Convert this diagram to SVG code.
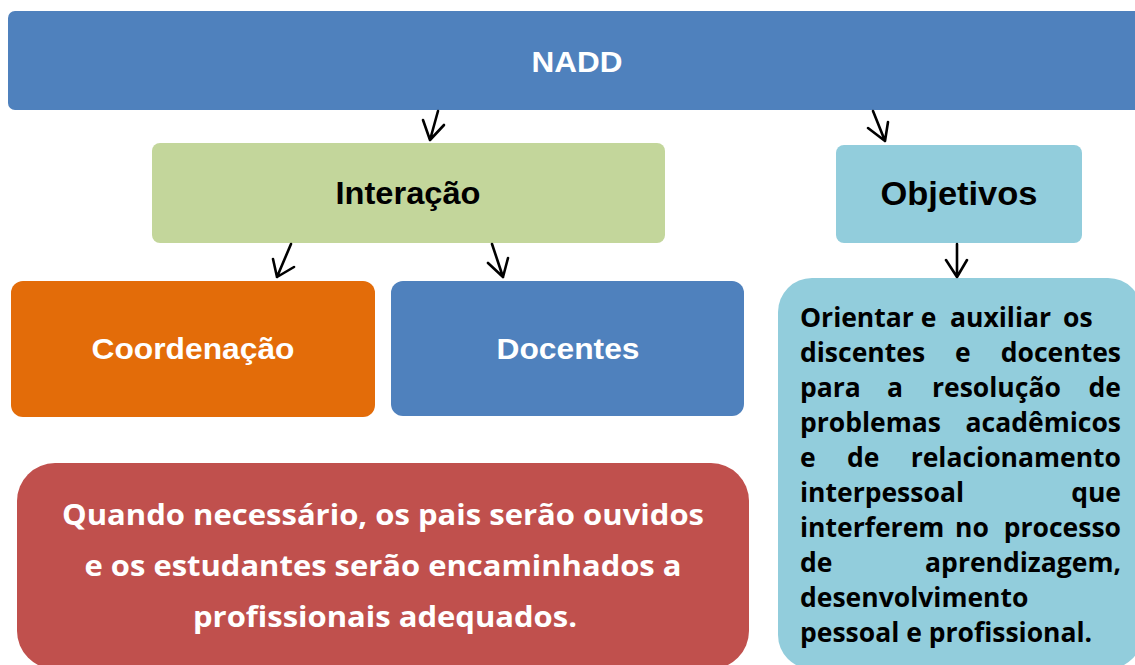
<svg xmlns="http://www.w3.org/2000/svg" width="1135" height="665" viewBox="0 0 1135 665">
<style>
.lbl{font-family:"Liberation Sans",Arial,sans-serif;font-weight:bold;text-anchor:middle}
.w{fill:#ffffff}
.k{fill:#000000}
.body{font-family:"Open Sans","Noto Sans",sans-serif;font-weight:bold}
.obj{font-size:26.5px;fill:#000}
.red{font-size:29px;fill:#fff;text-anchor:middle}
.arr{fill:none;stroke:#000;stroke-width:2.6;stroke-linecap:round;stroke-linejoin:round}
</style>
<rect width="1135" height="665" fill="#fff"/>
<g id="nadd">
<rect x="8" y="11" width="1140" height="99" rx="7" fill="#4F81BD"/>
<text class="lbl w" x="577" y="72" font-size="30" textLength="91" lengthAdjust="spacingAndGlyphs">NADD</text>
</g>
<g id="interacao">
<rect x="152" y="143" width="513" height="100" rx="8" fill="#C3D69B"/>
<text class="lbl k" x="408" y="204" font-size="31" textLength="145" lengthAdjust="spacingAndGlyphs">Interação</text>
</g>
<g id="objetivos">
<rect x="836" y="145" width="246" height="98" rx="8" fill="#92CDDC"/>
<text class="lbl k" x="959" y="205" font-size="33" textLength="157" lengthAdjust="spacingAndGlyphs">Objetivos</text>
</g>
<g id="coordenacao">
<rect x="11" y="281" width="364" height="136" rx="12" fill="#E36C09"/>
<text class="lbl w" x="193" y="359" font-size="30" textLength="203" lengthAdjust="spacingAndGlyphs">Coordenação</text>
</g>
<g id="docentes">
<rect x="391" y="281" width="353" height="135" rx="12" fill="#4F81BD"/>
<text class="lbl w" x="568" y="359" font-size="30" textLength="143" lengthAdjust="spacingAndGlyphs">Docentes</text>
</g>
<g id="pais">
<rect x="17" y="463" width="732" height="206" rx="38" fill="#C0504D"/>
<text class="body red" x="383" y="525" textLength="642" lengthAdjust="spacingAndGlyphs">Quando necessário, os pais serão ouvidos</text>
<text class="body red" x="383" y="576" textLength="597" lengthAdjust="spacingAndGlyphs">e os estudantes serão encaminhados a</text>
<text class="body red" x="385" y="627" textLength="384" lengthAdjust="spacingAndGlyphs">profissionais adequados.</text>
</g>
<g id="descricao">
<rect x="778" y="278" width="364" height="391" rx="34" fill="#92CDDC"/>
<g class="body obj">
<text x="800" y="327">Orientar e</text>
<text x="950" y="327">auxiliar</text>
<text x="1063" y="327">os</text>
<text x="800" y="362">discentes</text>
<text x="955" y="362">e</text>
<text x="1121" y="362" text-anchor="end">docentes</text>
<text x="800" y="397">para</text>
<text x="887" y="397">a</text>
<text x="932" y="397">resolução</text>
<text x="1121" y="397" text-anchor="end">de</text>
<text x="800" y="432">problemas</text>
<text x="1121" y="432" text-anchor="end">acadêmicos</text>
<text x="800" y="467">e</text>
<text x="847" y="467">de</text>
<text x="1121" y="467" text-anchor="end">relacionamento</text>
<text x="800" y="502">interpessoal</text>
<text x="1121" y="502" text-anchor="end">que</text>
<text x="800" y="537">interferem</text>
<text x="955" y="537">no</text>
<text x="1121" y="537" text-anchor="end">processo</text>
<text x="800" y="572">de</text>
<text x="1121" y="572" text-anchor="end">aprendizagem,</text>
<text x="800" y="607">desenvolvimento</text>
<text x="800" y="642">pessoal e profissional.</text>
</g>
</g>
<g id="connectors" class="arr">
<path d="M438,111 L430,140 M423,120 L430,140 L444,125"/>
<path d="M873,111 L885,141 M868,128 L885,141 L888,122"/>
<path d="M291,244 L277,277 M273,259 L277,277 L294,267"/>
<path d="M492,244 L503,277 M488,263 L503,277 L508,258"/>
<path d="M957,244 L957,277 M946,260 L957,277 L967,260"/>
</g>
</svg>
